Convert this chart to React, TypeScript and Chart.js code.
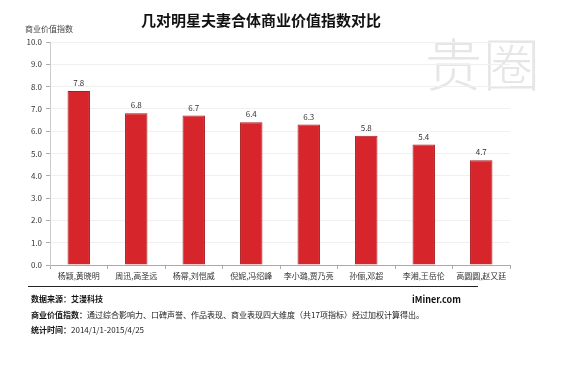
import React, { useEffect, useRef } from "react";
import { Chart, registerables } from "chart.js";

Chart.register(...registerables);

const categories = ["杨颖,黄晓明", "周迅,高圣远", "杨幂,刘恺威", "倪妮,冯绍峰", "李小璐,贾乃亮", "孙俪,邓超", "李湘,王岳伦", "高圆圆,赵又廷"];
const values = [7.8, 6.8, 6.7, 6.4, 6.3, 5.8, 5.4, 4.7];
const yTicks = [0, 1, 2, 3, 4, 5, 6, 7, 8, 9, 10];

const FONT = '"Noto Sans CJK SC", "Noto Sans", sans-serif';

const labelPlugin = {
  id: "valueLabels",
  afterDatasetsDraw(chart: any) {
    const ctx = chart.ctx;
    const meta = chart.getDatasetMeta(0);
    ctx.save();
    ctx.font = `8px ${FONT}`;
    ctx.fillStyle = "#333";
    ctx.textAlign = "center";
    ctx.textBaseline = "bottom";
    meta.data.forEach((bar: any, i: number) => {
      ctx.fillText(values[i].toFixed(1), bar.x, bar.y - 4);
    });
    ctx.restore();
  },
};

export default function App() {
  const ref = useRef<HTMLCanvasElement>(null);
  useEffect(() => {
    if (!ref.current) return;
    const chart = new Chart(ref.current, {
      type: "bar",
      data: {
        labels: categories,
        datasets: [
          {
            data: values,
            backgroundColor: "#d6252b",
            borderColor: "#a81b20",
            borderWidth: 1,
            categoryPercentage: 1,
            barPercentage: 0.39,
          },
        ],
      },
      options: {
        responsive: false,
        animation: false,
        layout: { padding: { top: 42, right: 60, bottom: 0, left: 0 } },
        plugins: { legend: { display: false }, tooltip: { enabled: false }, title: { display: false } },
        scales: {
          x: {
            grid: { drawOnChartArea: false, drawTicks: true, tickLength: 4, tickColor: "#aaa", offset: true },
            border: { color: "#aaa" },
            ticks: { color: "#333", font: { size: 8, family: FONT }, padding: 2, maxRotation: 0, autoSkip: false },
            afterFit(scale: any) {
              scale.height = 103;
            },
          },
          y: {
            min: 0,
            max: 10,
            afterBuildTicks(scale: any) {
              scale.ticks = yTicks.map((v) => ({ value: v }));
            },
            grid: { color: "#f0f0f0", tickColor: "#aaa", tickLength: 4 },
            border: { color: "#ccc" },
            ticks: {
              color: "#333",
              font: { size: 8, family: FONT },
              padding: 4,
              callback: (v: any) => Number(v).toFixed(1),
            },
            afterFit(scale: any) {
              scale.width = 50;
            },
          },
        },
      },
      plugins: [labelPlugin],
    });
    return () => chart.destroy();
  }, []);

  const abs = (s: React.CSSProperties): React.CSSProperties => ({ position: "absolute", whiteSpace: "nowrap", fontFamily: FONT, lineHeight: 1, ...s });

  return (
    <div style={{ position: "fixed", left: 0, top: 0, width: 570, height: 368, background: "#fff", overflow: "hidden" }}>
      <div style={abs({ left: 425, top: 33, fontSize: 57, color: "#e6e6e6", fontWeight: 300, letterSpacing: 1 })}>贵圈</div>
      <canvas ref={ref} width={570} height={368} style={{ position: "absolute", left: 0, top: 0 }} />
      <div style={abs({ left: 0, width: 522, top: 12, textAlign: "center", fontSize: 15, fontWeight: 700, color: "#111" })}>几对明星夫妻合体商业价值指数对比</div>
      <div style={abs({ left: 25, top: 25, fontSize: 8, color: "#444" })}>商业价值指数</div>
      <div style={{ position: "absolute", left: 28, top: 286, width: 450, height: 0, borderTop: "1.5px solid #222" }} />
      <div style={abs({ left: 31, top: 295, fontSize: 8, fontWeight: 700, color: "#111" })}>数据来源：艾漫科技</div>
      <div style={abs({ left: 412, top: 295, fontSize: 9, fontWeight: 700, color: "#111" })}>iMiner.com</div>
      <div style={abs({ left: 31, top: 311, fontSize: 8, color: "#222" })}>
        <b style={{ color: "#111" }}>商业价值指数：</b>通过综合影响力、口碑声誉、作品表现、商业表现四大维度（共17项指标）经过加权计算得出。
      </div>
      <div style={abs({ left: 31, top: 326, fontSize: 8, color: "#222" })}>
        <b style={{ color: "#111" }}>统计时间：</b>2014/1/1-2015/4/25
      </div>
    </div>
  );
}
